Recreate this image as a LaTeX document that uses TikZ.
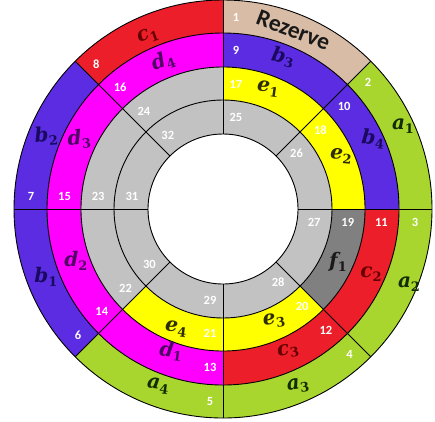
\documentclass[tikz,border=0pt]{standalone}
\usepackage{fontspec}
\newfontfamily\numfont{Carlito}
\newfontfamily\labfont{DejaVu Serif}
\definecolor{cTan}{RGB}{217,188,165}
\definecolor{cGreen}{RGB}{168,214,46}
\definecolor{cBlue}{RGB}{92,44,226}
\definecolor{cRed}{RGB}{236,30,42}
\definecolor{cMag}{RGB}{255,0,255}
\definecolor{cYel}{RGB}{255,255,0}
\definecolor{cGray}{RGB}{194,194,194}
\definecolor{cDGray}{RGB}{128,128,128}
\definecolor{tRed}{RGB}{100,0,0}
\definecolor{tPur}{RGB}{80,0,100}
\definecolor{tNav}{RGB}{25,10,95}
\definecolor{tOl}{RGB}{45,45,0}
\definecolor{tGrn}{RGB}{20,45,0}
\definecolor{tBlk}{RGB}{25,25,25}
\newcommand\sect[5]{\fill[#1] (#2:#5) arc[start angle=#2, end angle=#3, radius=#5] -- (#3:#4) arc[start angle=#3, end angle=#2, radius=#4] -- cycle;}
\newcommand\lab[2]{#1\raisebox{-0.35ex}{\fontsize{13}{13}\selectfont\upshape #2}}
\begin{document}
\begin{tikzpicture}[x=1pt,y=1pt,
  numtext/.style={text=white, font=\numfont\bfseries\fontsize{12.5}{12.5}\selectfont, inner sep=0pt},
  labtext/.style={font=\labfont\bfseries\itshape\fontsize{20}{20}\selectfont, inner sep=0pt},
  ringline/.style={black, line width=0.9pt}]
\useasboundingbox (0,0) rectangle (435,-421);
\fill[white] (0,0) rectangle (435,-421);
\begin{scope}[shift={(223,-209)}]
% ring 1
\foreach \c [count=\k from 0] in {cTan,cGreen,cGreen,cGreen,cGreen,cBlue,cBlue,cRed}{
  \pgfmathsetmacro\aa{90-45*\k}\pgfmathsetmacro\ab{45-45*\k}
  \sect{\c}{\aa}{\ab}{176}{209}}
% ring 2
\foreach \c [count=\k from 0] in {cBlue,cBlue,cRed,cRed,cMag,cMag,cMag,cMag}{
  \pgfmathsetmacro\aa{90-45*\k}\pgfmathsetmacro\ab{45-45*\k}
  \sect{\c}{\aa}{\ab}{142}{176}}
% ring 3
\foreach \c [count=\k from 0] in {cYel,cYel,cDGray,cYel,cYel,cGray,cGray,cGray}{
  \pgfmathsetmacro\aa{90-45*\k}\pgfmathsetmacro\ab{45-45*\k}
  \sect{\c}{\aa}{\ab}{109}{142}}
% ring 4
\sect{cGray}{90}{-270}{75}{109}
% lines
\foreach \r in {209,176,142,109,75} \draw[ringline] (0,0) circle[radius=\r];
\foreach \a in {0,45,...,315} \draw[ringline] (\a:75) -- (\a:209);
% Rezerve
\node[font=\numfont\bfseries\fontsize{23.5}{23.5}\selectfont, text=tBlk, rotate=-21, inner sep=0pt] (rez) at (68.5:192) {Rezerve};
% letter labels
\node[labtext, text=tRed, rotate=20] (lc1) at (-75,173) {\lab{c}{1}};
\node[labtext, text=tPur, rotate=20] (ld4) at (-60,148) {\lab{d}{4}};
\node[labtext, text=tNav, rotate=5] (lb2) at (-177,73) {\lab{b}{2}};
\node[labtext, text=tPur, rotate=5] (ld3) at (-144,70) {\lab{d}{3}};
\node[labtext, text=tNav, rotate=-12] (lb3) at (60,152) {\lab{b}{3}};
\node[labtext, text=tOl, rotate=-8] (le1) at (45,120) {\lab{e}{1}};
\node[labtext, text=tGrn] (la1) at (180,83) {\lab{a}{1}};
\node[labtext, text=tNav, rotate=-5] (lb4) at (150,70) {\lab{b}{4}};
\node[labtext, text=tOl, rotate=-5] (le2) at (118,53) {\lab{e}{2}};
\node[labtext, text=tBlk] (lf1) at (115,-53) {\lab{f}{1}};
\node[labtext, text=tRed] (lc2) at (148,-65) {\lab{c}{2}};
\node[labtext, text=tGrn] (la2) at (186,-75) {\lab{a}{2}};
\node[labtext, text=tOl, rotate=8] (le3) at (51,-112) {\lab{e}{3}};
\node[labtext, text=tRed, rotate=10] (lc3) at (65,-142) {\lab{c}{3}};
\node[labtext, text=tGrn, rotate=8] (la3) at (75,-177) {\lab{a}{3}};
\node[labtext, text=tOl, rotate=-8] (le4) at (-47,-120) {\lab{e}{4}};
\node[labtext, text=tPur, rotate=-8] (ld1) at (-52,-142) {\lab{d}{1}};
\node[labtext, text=tGrn, rotate=-8] (la4) at (-65,-177) {\lab{a}{4}};
\node[labtext, text=tPur] (ld2) at (-147,-52) {\lab{d}{2}};
\node[labtext, text=tNav] (lb1) at (-177,-68) {\lab{b}{1}};
% numbers
\foreach \k in {1,...,32}{
  \pgfmathtruncatemacro\rnum{int((\k-1)/8)}
  \pgfmathtruncatemacro\sidx{mod(\k-1,8)}
  \pgfmathsetmacro\rmid{192.5-33.5*\rnum}
  \pgfmathsetmacro\ang{90-45*\sidx-13/\rmid*57.2958}
  \node[numtext] (n\k) at (\ang:\rmid) {\k};
}
\end{scope}
\end{tikzpicture}
\end{document}
